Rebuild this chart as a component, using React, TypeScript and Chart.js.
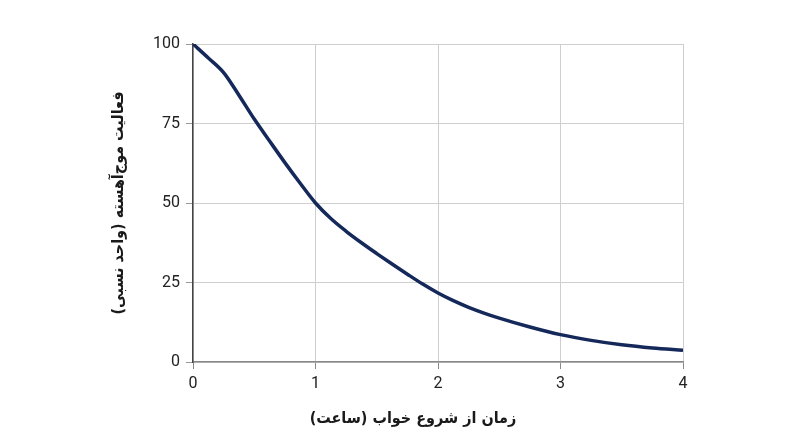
// @ts-nocheck
import { useEffect, useRef } from 'react';
import { Chart } from 'chart.js/auto';

// Time since sleep onset (hours) and relative slow-wave activity
const hours = [
	0, 0.125, 0.25, 0.375, 0.5, 0.625, 0.75, 0.875, 1, 1.125, 1.25, 1.375, 1.5, 1.625, 1.75, 1.875, 2,
	2.125, 2.25, 2.375, 2.5, 2.75, 3, 3.25, 3.5, 3.75, 4,
];
const activity = [
	100, 95.6, 91, 83.9, 76.4, 69.5, 62.7, 56.2, 50, 45.1, 41.1, 37.5, 34.1, 30.8, 27.6, 24.5, 21.7,
	19.3, 17.2, 15.4, 13.8, 11, 8.6, 6.8, 5.4, 4.4, 3.7,
];

const xTicks = [0, 1, 2, 3, 4];
const yTicks = [0, 25, 50, 75, 100];

// trailing spaces nudge the visible title slightly left, as in the reference
const xTitle = 'زمان از شروع خواب (ساعت)          ';
const yTitle = 'فعالیت موج‌آهسته (واحد نسبی)';

const tickFont = { family: 'Roboto, "DejaVu Sans", sans-serif', size: 16 };
const titleFont = { family: '"DejaVu Sans Condensed", "DejaVu Sans", sans-serif', size: 16, weight: 'bold' };

export default function App() {
	const canvasRef = useRef(null);

	useEffect(() => {
		document.body.style.margin = '0';
		if (!canvasRef.current) return;

		const chart = new Chart(canvasRef.current, {
			type: 'line',
			data: {
				datasets: [
					{
						data: hours.map((h, i) => ({ x: h, y: activity[i] })),
						borderColor: '#14285a',
						borderWidth: 3.5,
						pointRadius: 0,
						fill: false,
						cubicInterpolationMode: 'monotone',
					},
				],
			},
			options: {
				animation: false,
				responsive: false,
				maintainAspectRatio: false,
				layout: {
					padding: { left: 101, top: 44, right: 117, bottom: 10 },
				},
				plugins: {
					legend: { display: false },
					tooltip: { enabled: false },
				},
				scales: {
					x: {
						type: 'linear',
						min: 0,
						max: 4,
						afterBuildTicks: (scale) => {
							scale.ticks = xTicks.map((v) => ({ value: v }));
						},
						afterFit: (scale) => {
							scale.height = 75;
						},
						grid: {
							color: '#cfcfcf',
							tickColor: '#888',
							tickLength: 7,
						},
						border: { color: '#888', width: 1.5 },
						ticks: {
							color: '#222',
							font: tickFont,
							padding: 5,
						},
						title: {
							display: true,
							text: xTitle,
							color: '#1a1a1a',
							font: titleFont,
							padding: { top: 4, bottom: 9 },
						},
					},
					y: {
						min: 0,
						max: 100,
						afterBuildTicks: (scale) => {
							scale.ticks = yTicks.map((v) => ({ value: v }));
						},
						afterFit: (scale) => {
							scale.width = 92;
						},
						grid: {
							color: '#cfcfcf',
							tickColor: '#999',
							tickLength: 7,
						},
						border: { color: '#444', width: 1.5 },
						ticks: {
							color: '#222',
							font: tickFont,
							padding: 6,
						},
						title: {
							display: true,
							text: yTitle,
							color: '#1a1a1a',
							font: titleFont,
							padding: { top: 8, bottom: 4 },
						},
					},
				},
			},
		});

		return () => chart.destroy();
	}, []);

	return (
		<div style={{ width: 800, height: 447, background: '#fff' }}>
			<canvas ref={canvasRef} width={800} height={447} />
		</div>
	);
}
